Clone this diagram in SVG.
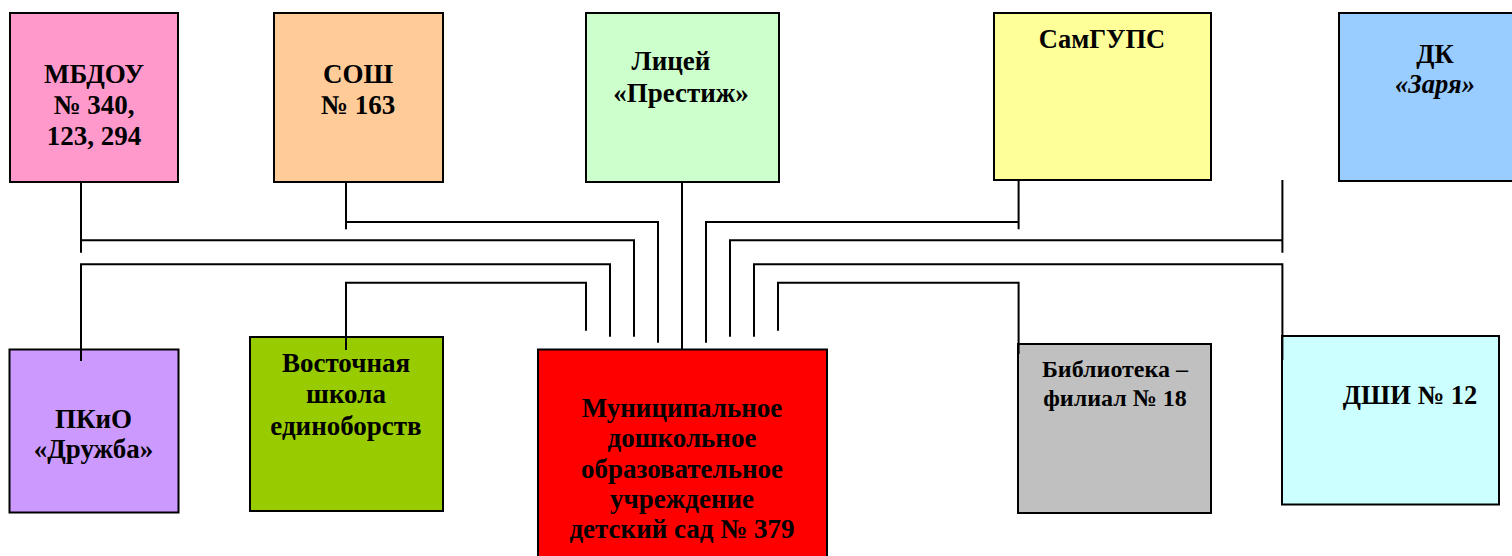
<svg xmlns="http://www.w3.org/2000/svg" width="1512" height="556" viewBox="0 0 1512 556">
<style>
.box{stroke:#000;stroke-width:2}
.t{font-family:"Liberation Serif","Times New Roman",serif;font-weight:bold;font-size:27px;fill:#000;text-anchor:middle}
.s{font-size:26.5px}
.b{font-size:24px}
.i{font-style:italic}
.c{fill:none;stroke:#000;stroke-width:2}
</style>
<rect width="1512" height="556" fill="#fff"/>
<g id="mbdou">
<rect class="box" x="10" y="13" width="168" height="169" fill="#FF99CC"/>
<text class="t" x="94" y="83">МБДОУ</text>
<text class="t" x="94" y="114">№ 340,</text>
<text class="t" x="94" y="145">123, 294</text>
</g>
<g id="sosh">
<rect class="box" x="274" y="13" width="169" height="169" fill="#FFCC99"/>
<text class="t" x="358" y="83">СОШ</text>
<text class="t" x="358" y="113.5">№ 163</text>
</g>
<g id="licey">
<rect class="box" x="586" y="13" width="193" height="169" fill="#CCFFCC"/>
<text class="t" x="671" y="70">Лицей</text>
<text class="t" x="681" y="101.5">«Престиж»</text>
</g>
<g id="samgups">
<rect class="box" x="994" y="13" width="217" height="167" fill="#FFFF99"/>
<text class="t s" x="1102" y="47.5">СамГУПС</text>
</g>
<g id="dk">
<rect class="box" x="1339" y="13" width="185" height="168" fill="#99CCFF"/>
<text class="t s" x="1435" y="63.3">ДК</text>
<text class="t s i" x="1435" y="93.3">«Заря»</text>
</g>
<g id="pkio">
<rect class="box" x="9.5" y="349.5" width="169" height="163" fill="#CC99FF"/>
<text class="t" x="93.5" y="428.3">ПКиО</text>
<text class="t" x="93.5" y="458.3">«Дружба»</text>
</g>
<g id="vostochnaya">
<rect class="box" x="250" y="337" width="193" height="174" fill="#99CC00"/>
<text class="t" x="346" y="371.7">Восточная</text>
<text class="t" x="346" y="403.3">школа</text>
<text class="t" x="346" y="435">единоборств</text>
</g>
<g id="mdou">
<rect class="box" x="538" y="349.5" width="289" height="220" fill="#FF0000"/>
<text class="t" x="682" y="417.3">Муниципальное</text>
<text class="t" x="682" y="447.3">дошкольное</text>
<text class="t" x="682" y="477.5">образовательное</text>
<text class="t" x="682" y="507.7">учреждение</text>
<text class="t" x="682" y="538">детский сад № 379</text>
</g>
<g id="biblioteka">
<rect class="box" x="1018" y="344" width="193" height="169" fill="#C0C0C0"/>
<text class="t b" x="1115" y="376.7">Библиотека –</text>
<text class="t b" x="1115" y="406">филиал № 18</text>
</g>
<g id="dshi">
<rect class="box" x="1282" y="336" width="217" height="168.5" fill="#CCFFFF"/>
<text class="t s" x="1410" y="404">ДШИ № 12</text>
</g>
<g id="connectors">
<path class="c" d="M81,182 V252.7 M81,240.3 H634 V336.7"/>
<path class="c" d="M346,182 V229.3 M346,222 H658 V342.7"/>
<path class="c" d="M682,182 V349"/>
<path class="c" d="M1018.6,181 V229.3 M1018.6,222 H706 V342.7"/>
<path class="c" d="M1282.4,180 V252.7 M1282.4,240.3 H730 V336.7"/>
<path class="c" d="M81,361 V264.3 H610 V336.7"/>
<path class="c" d="M346,350 V282.7 H586 V330.7"/>
<path class="c" d="M1282.4,360 V264.3 H754 V336.7"/>
<path class="c" d="M1018.6,354 V282.7 H778 V330.7"/>
</g>
</svg>
